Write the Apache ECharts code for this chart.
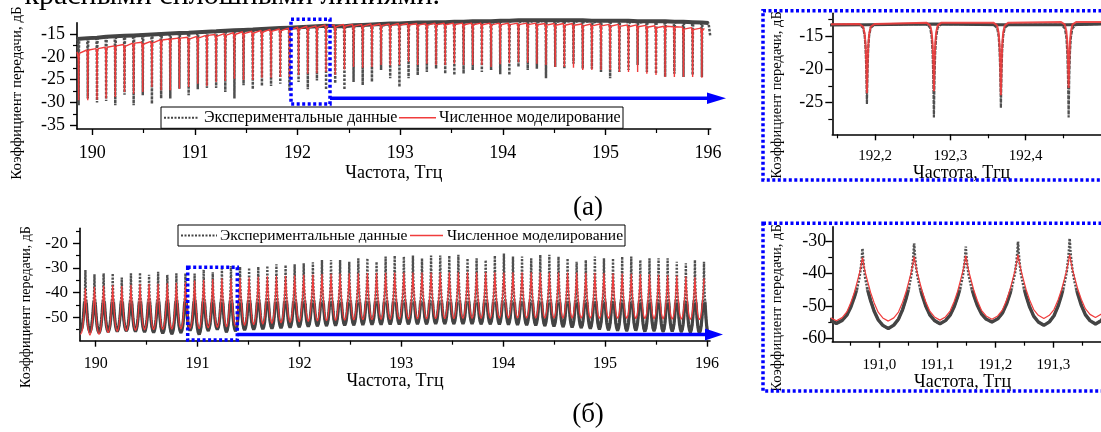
<!DOCTYPE html>
<html><head><meta charset="utf-8">
<script src="https://cdn.jsdelivr.net/npm/echarts@6/dist/echarts.min.js"></script>
<style>html,body{margin:0;padding:0;background:#fff}#c{width:1101px;height:432px}</style>
</head><body><div id="c"></div>
<script>
const EXP = 'Экспериментальные данные';
const SIM = 'Численное моделирование';

// ---------- (а) transmission spectrum: dip positions and levels ----------
const aDipFreq = [189.867,189.956,190.046,190.135,190.224,190.314,190.403,190.492,190.581,190.671,
190.760,190.849,190.939,191.028,191.117,191.207,191.296,191.385,191.474,191.564,
191.653,191.742,191.832,191.921,192.010,192.100,192.189,192.278,192.367,192.457,
192.546,192.635,192.725,192.814,192.903,192.993,193.082,193.171,193.260,193.350,
193.439,193.528,193.618,193.707,193.796,193.886,193.975,194.064,194.153,194.243,
194.332,194.421,194.511,194.600,194.689,194.779,194.868,194.957,195.046,195.136,
195.225,195.314,195.404,195.493,195.582,195.672,195.761,195.850,195.940];
const aExpDip = [-30.6,-29.1,-30.0,-29.7,-30.6,-28.3,-30.6,-28.4,-30.3,-29.1,
-29.1,-27.0,-28.4,-27.1,-26.8,-26.8,-27.7,-29.1,-26.2,-27.1,
-26.4,-26.4,-25.9,-27.5,-25.5,-27.1,-25.2,-27.2,-25.8,-27.2,
-25.5,-26.2,-25.5,-22.9,-24.7,-26.6,-24.7,-24.0,-23.3,-22.6,
-23.7,-24.0,-23.7,-22.9,-23.3,-22.9,-23.8,-24.0,-22.2,-22.9,
-22.6,-24.7,-22.2,-22.6,-21.5,-22.6,-22.6,-23.3,-24.7,-23.3,
-22.9,-21.8,-23.3,-23.7,-24.4,-23.7,-24.4,-24.0,-24.4];
const aSimDip = [-29.5,-29.5,-29.4,-29.1,-28.8,-27.7,-28.1,-27.7,-26.6,-27.3,
-27.3,-27.0,-26.6,-25.9,-26.4,-25.5,-25.3,-24.8,-25.1,-25.1,
-24.6,-24.6,-24.4,-24.4,-24.0,-23.7,-23.6,-23.3,-23.9,-22.8,
-22.2,-22.4,-22.2,-21.8,-21.9,-21.8,-21.1,-21.8,-21.5,-21.8,
-21.8,-21.5,-21.8,-21.8,-21.8,-22.2,-21.6,-21.4,-21.2,-21.3,
-21.5,-21.8,-22.2,-22.2,-22.4,-22.9,-22.9,-22.9,-22.9,-23.3,
-23.3,-23.3,-23.7,-24.0,-24.4,-24.4,-24.4,-24.4,-24.6];
const aExpBase = [-16.0,-15.9,-15.8,-15.6,-15.5,-15.4,-15.3,-15.2,-15.1,-15.0,
-14.9,-14.8,-14.7,-14.6,-14.5,-14.4,-14.3,-14.2,-14.1,-14.0,
-13.9,-13.8,-13.7,-13.6,-13.5,-13.4,-13.3,-13.2,-13.3,-13.3,
-13.1,-13.0,-12.9,-12.8,-12.7,-12.7,-12.6,-12.5,-12.5,-12.4,
-12.4,-12.3,-12.3,-12.2,-12.2,-12.2,-12.1,-12.1,-12.0,-12.0,
-12.0,-12.0,-12.0,-12.0,-12.0,-12.0,-12.1,-12.1,-12.1,-12.1,
-12.1,-12.2,-12.2,-12.2,-12.2,-12.3,-12.3,-12.4,-12.5];
const aSimBase = [-18.8,-18.5,-18.2,-17.9,-17.6,-17.3,-17.0,-16.8,-16.6,-16.3,
-16.1,-15.9,-15.7,-15.5,-15.3,-15.1,-14.9,-14.7,-14.5,-14.4,
-14.2,-14.0,-13.9,-13.7,-13.5,-13.3,-13.2,-13.0,-13.0,-12.9,
-12.9,-12.9,-12.8,-12.8,-12.8,-12.7,-12.7,-12.7,-12.7,-12.6,
-12.6,-12.6,-12.6,-12.6,-12.6,-12.6,-12.6,-12.6,-12.6,-12.6,
-12.6,-12.7,-12.7,-12.7,-12.7,-12.8,-12.8,-12.8,-12.9,-12.9,
-13.0,-13.0,-13.1,-13.2,-13.3,-13.4,-13.5,-13.6,-13.7];
const aExpStart = [[189.851,-16.1]];
const aExpEnd = [[196.005,-12.6],[196.022,-15.5]];
const aSimStart = [[189.851,-18.9]];
const aSimEnd = [[195.965,-13.8]];
// dip line shape: offset (THz) and fraction of dip depth
const aDipShapeOffset = [-0.010,-0.005,-0.003,-0.0018,-0.0009,-0.0003,0,0.0003,0.0009,0.0018,0.003,0.005,0.010];
const aDipShapeDepth  = [0,0.04,0.14,0.30,0.55,0.85,1,0.85,0.55,0.30,0.14,0.04,0];

// ---------- (б) drop-port spectrum: peak positions and levels ----------
const bPeakFreq = [189.899,189.988,190.078,190.167,190.256,190.346,190.435,190.524,190.613,190.703,
190.792,190.881,190.971,191.060,191.149,191.239,191.328,191.417,191.506,191.596,
191.685,191.774,191.864,191.953,192.042,192.132,192.221,192.310,192.399,192.489,
192.578,192.667,192.757,192.846,192.935,193.025,193.114,193.203,193.292,193.382,
193.471,193.560,193.650,193.739,193.828,193.918,194.007,194.096,194.185,194.275,
194.364,194.453,194.543,194.632,194.721,194.811,194.900,194.989,195.078,195.168,
195.257,195.346,195.436,195.525,195.614,195.704,195.793,195.882,195.971];
const bExpPeak = [-30.8,-32.6,-32.2,-32.2,-33.9,-32.2,-31.9,-32.8,-31.5,-32.8,
-32.2,-32.2,-32.3,-30.7,-31.7,-30.2,-29.2,-29.5,-29.9,-29.5,
-29.1,-28.5,-28.8,-28.5,-28.1,-27.7,-26.8,-26.8,-26.8,-27.5,
-26.1,-26.1,-27.5,-25.4,-25.0,-25.4,-25.0,-26.1,-25.0,-25.0,
-25.0,-24.7,-26.1,-26.1,-26.8,-25.0,-24.1,-25.4,-25.4,-26.1,
-24.7,-24.7,-25.4,-26.1,-27.5,-26.8,-25.4,-26.1,-26.1,-25.4,
-25.4,-26.8,-26.1,-26.1,-26.1,-27.5,-28.1,-26.8,-27.5];
const bSimPeak = [-38.2,-37.6,-37.2,-37.0,-37.3,-36.8,-36.5,-36.4,-36.4,-36.2,
-36.0,-35.8,-35.1,-34.8,-34.5,-34.2,-34.2,-34.0,-33.8,-33.6,
-33.4,-33.3,-33.2,-33.0,-32.8,-32.7,-32.5,-32.4,-32.3,-32.2,
-32.2,-32.1,-32.0,-32.0,-31.9,-31.9,-31.9,-31.8,-31.8,-31.8,
-31.7,-31.7,-31.7,-31.7,-31.7,-31.7,-31.8,-31.7,-31.7,-31.7,
-31.8,-31.8,-31.8,-31.9,-31.9,-32.0,-32.0,-32.1,-32.2,-32.3,
-32.4,-32.5,-32.6,-32.8,-33.0,-33.2,-33.5,-33.8,-34.2];
// troughs: [0] before the first peak, [k] after peak k-1
const bExpTrough = [-55.5,-56.0,-56.4,-56.0,-55.8,-55.6,-55.8,-56.0,-56.2,-56.5,
-56.8,-56.3,-55.4,-57.0,-55.5,-55.0,-56.0,-55.6,-55.2,-55.0,
-54.8,-54.6,-54.4,-54.2,-54.0,-53.8,-53.6,-53.5,-53.4,-53.3,
-53.2,-53.1,-53.0,-53.0,-52.9,-52.9,-52.8,-52.8,-52.8,-52.7,
-52.7,-52.7,-52.7,-52.7,-52.8,-52.8,-52.9,-53.0,-53.1,-53.2,
-53.3,-53.5,-53.7,-53.9,-54.1,-54.3,-54.6,-54.9,-55.2,-55.4,
-55.6,-55.4,-55.8,-55.6,-55.9,-55.7,-56.0,-56.2,-56.5,-57.0];
const bSimTrough = [-57.0,-57.3,-57.0,-56.3,-55.8,-55.6,-55.4,-55.2,-55.1,-55.0,
-54.9,-54.8,-54.6,-54.7,-54.4,-54.1,-53.9,-53.6,-53.3,-53.0,
-52.8,-52.5,-52.3,-52.1,-51.9,-51.7,-51.5,-51.4,-51.3,-51.2,
-51.1,-51.0,-51.0,-50.9,-50.9,-50.8,-50.8,-50.7,-50.7,-50.6,
-50.6,-50.6,-50.5,-50.5,-50.5,-50.5,-50.4,-50.4,-50.4,-50.4,
-50.4,-50.4,-50.4,-50.4,-50.4,-50.4,-50.4,-50.5,-50.5,-50.5,
-50.5,-50.6,-50.6,-50.7,-50.7,-50.8,-50.8,-50.9,-51.0,-51.1];
const bStartFreq = 189.85;
const bExpEndFreq = 196.02;
const bSimEndFreq = 195.975;
// peak line shape: offset from peak (THz) and fraction of peak height
const bPeakShapeOffset = [0.035,0.027,0.020,0.014,0.009,0.005,0.0025,0.001,0];
const bSimShape = [0.05,0.14,0.29,0.45,0.62,0.76,0.87,0.95,1];
const bExpShape = [0.04,0.11,0.22,0.35,0.48,0.62,0.76,0.88,1];

// ---------- tick labels ----------
const xTicksMain = [190,191,192,193,194,195,196];
const xMinorMain = [190.5,191.5,192.5,193.5,194.5,195.5];
const yTicksA = [-35,-30,-25,-20,-15];
const yMinorA = [-32.5,-27.5,-22.5,-17.5,-12.5];
const yTicksB = [-50,-40,-30,-20];
const yMinorB = [-55,-45,-35,-25,-15];
const xTicksAi = [192.2,192.3,192.4];
const xMinorAi = [192.15,192.25,192.35,192.45];
const yTicksAi = [-25,-20,-15];
const yMinorAi = [-27.5,-22.5,-17.5,-12.5];
const xTicksBi = [191.0,191.1,191.2,191.3];
const xMinorBi = [190.95,191.05,191.15,191.25,191.35];
const yTicksBi = [-60,-50,-40,-30];
const yMinorBi = [-55,-45,-35];

// ---------- build line data ----------
function buildTop(base, dip, start, end) {
  const d = start.slice();
  for (let i = 0; i < aDipFreq.length; i++) {
    for (let k = 0; k < aDipShapeOffset.length; k++) {
      d.push([aDipFreq[i] + aDipShapeOffset[k], base[i] + aDipShapeDepth[k] * (dip[i] - base[i])]);
    }
  }
  return d.concat(end);
}
function buildBase(base, start, end) {
  return start.concat(aDipFreq.map((f, i) => [f, base[i]]), end.slice(0, 1));
}
function buildBottom(peak, trough, shape, endFreq) {
  const d = [[bStartFreq, trough[0]]];
  const n = bPeakFreq.length, m = bPeakShapeOffset.length;
  for (let i = 0; i < n; i++) {
    const f = bPeakFreq[i];
    for (let k = 0; k < m; k++) d.push([f - bPeakShapeOffset[k], trough[i] + shape[k] * (peak[i] - trough[i])]);
    for (let k = m - 2; k >= 0; k--) {
      const x = f + bPeakShapeOffset[k];
      if (x > endFreq) break;
      d.push([x, trough[i + 1] + shape[k] * (peak[i] - trough[i + 1])]);
    }
    const mid = i < n - 1 ? (f + bPeakFreq[i + 1]) / 2 : f + 0.0446;
    if (mid <= endFreq) d.push([mid, trough[i + 1]]);
  }
  return d;
}
const topExp = buildTop(aExpBase, aExpDip, aExpStart, aExpEnd);
const topExpBand = buildBase(aExpBase, aExpStart, aExpEnd);
const topSim = buildTop(aSimBase, aSimDip, aSimStart, aSimEnd);
const botExp = buildBottom(bExpPeak, bExpTrough, bExpShape, bExpEndFreq);
const botSim = buildBottom(bSimPeak, bSimTrough, bSimShape, bSimEndFreq);

const FONT = '"Liberation Serif","Times New Roman",serif';
const fmtComma = v => v.toFixed(1).replace('.', ',');
const fmtInt = v => String(Math.round(v));

function axisPair(kind, grid, min, max, major, minor, o) {
  const common = {type:'value', gridIndex:grid, min:min, max:max, position: kind === 'x' ? 'bottom' : 'left', offset:0, splitLine:{show:false}};
  const a = Object.assign({}, common, {
    axisLine:{show:true, onZero:false, lineStyle:{color:'#000', width:1.6}},
    axisTick:{show:true, customValues:major, length:o.tick, lineStyle:{color:'#000', width:1.4}},
    axisLabel:{show:true, customValues:major, margin:o.margin, fontSize:o.fs, fontFamily:FONT, color:'#000', formatter:o.fmt},
    name:o.name || '', nameLocation:'middle', nameGap:o.nameGap || 0,
    nameTextStyle:{fontSize:18, fontFamily:FONT, color:'#000', padding:o.namePad || 0}
  });
  const b = Object.assign({}, common, {
    axisLine:{show:false, onZero:false},
    axisTick:{show:true, customValues:minor, length:o.minor, lineStyle:{color:'#000', width:1.2}},
    axisLabel:{show:false}
  });
  return [a, b];
}

const xAxes = [].concat(
  axisPair('x', 0, 189.851, 196.026, xTicksMain, xMinorMain, {tick:6, minor:4, margin:15, fs:18, fmt:fmtInt, name:'Частота, Тгц', nameGap:35}),
  axisPair('x', 1, 192.143, 192.5, xTicksAi, xMinorAi, {tick:6, minor:4, margin:14, fs:15, fmt:fmtComma, name:'Частота, Тгц', nameGap:29, namePad:[0,10,0,0]}),
  axisPair('x', 2, 189.846, 196.03, xTicksMain, xMinorMain, {tick:6, minor:4, margin:15, fs:16, fmt:fmtInt, name:'Частота, Тгц', nameGap:30}),
  axisPair('x', 3, 190.919, 191.382, xTicksBi, xMinorBi, {tick:6, minor:4, margin:16, fs:15, fmt:fmtComma, name:'Частота, Тгц', nameGap:32, namePad:[0,8,0,0]})
);
const yAxes = [].concat(
  axisPair('y', 0, -35.81, -12.52, yTicksA, yMinorA, {tick:7, minor:4, margin:12, fs:18, fmt:fmtInt}),
  axisPair('y', 1, -29.74, -11.6, yTicksAi, yMinorAi, {tick:7, minor:4, margin:9, fs:18, fmt:fmtInt}),
  axisPair('y', 2, -59.49, -13.92, yTicksB, yMinorB, {tick:7, minor:4, margin:12, fs:17, fmt:fmtInt}),
  axisPair('y', 3, -61.05, -25.59, yTicksBi, yMinorBi, {tick:7, minor:4, margin:6, fs:18, fmt:fmtInt})
);

const GRAY = '#444444', RED = '#f03c3c';
function cutGradient(yTop, yOn, yOff) {
  // opaque below yOn (pixels), transparent above yOff
  return new echarts.graphic.LinearGradient(0, yTop, 0, yOn, [
    {offset:0, color:'rgba(68,68,68,0)'},
    {offset:(yOff - yTop) / (yOn - yTop), color:'rgba(68,68,68,0)'},
    {offset:1, color:GRAY}
  ], true);
}
function ser(name, g, data, style, clip, z) {
  return {name:name, type:'line', xAxisIndex:2*g, yAxisIndex:2*g, data:data, symbol:'none', showSymbol:false,
    clip:clip, lineStyle:style, z:z, silent:true, emphasis:{disabled:true}, sampling:null};
}
const series = [
  ser(EXP, 0, topExp, {color:'#505050', width:2.5, type:[2.5,1.5]}, false, 2),
  ser(EXP, 0, topExpBand, {color:GRAY, width:4}, false, 2),
  ser(SIM, 0, topSim, {color:RED, width:1.4}, true, 3),
  ser(EXP, 1, topExp, {color:'#505050', width:2.2, type:[4,1]}, true, 2),
  ser(EXP, 1, topExpBand, {color:GRAY, width:3}, true, 2),
  ser(SIM, 1, topSim, {color:RED, width:2, opacity:0.9}, true, 3),
  ser(EXP, 2, botExp, {color:'#505050', width:2.4, type:[2,1.5]}, true, 2),
  ser(EXP, 2, botExp, {color:cutGradient(228, 304, 299), width:3.2}, true, 2),
  ser(SIM, 2, botSim, {color:RED, width:1.2}, true, 3),
  ser(EXP, 3, botExp, {color:'#505050', width:2.6, type:[2,1.5]}, true, 2),
  ser(EXP, 3, botExp, {color:cutGradient(226, 292, 286), width:3.4}, true, 2),
  ser(SIM, 3, botSim, {color:RED, width:1.2}, true, 3)
];

const BLUE = '#0000ff';
const dotted = {fill:'none', stroke:BLUE, lineWidth:3.5, lineDash:[3,2.5]};
function ylab(x, y, fs) {
  return {type:'text', x:x, y:y, rotation:Math.PI/2, z:50,
    style:{text:'Коэффициент передачи, дБ', fontFamily:FONT, fontSize:fs, fill:'#000', align:'center', verticalAlign:'middle'}};
}
function legendBox(x, y, w, h, s1, t1, s2, t2, fs) {
  const cy = y + h / 2;
  return [
    {type:'rect', z:70, shape:{x:x, y:y, width:w, height:h}, style:{fill:'#fff', stroke:'#000', lineWidth:1}},
    {type:'line', z:71, shape:{x1:s1[0], y1:cy, x2:s1[1], y2:cy}, style:{stroke:GRAY, lineWidth:2, lineDash:[2,1.5]}},
    {type:'text', z:71, x:t1, y:cy, style:{text:EXP, fontFamily:FONT, fontSize:fs, fill:'#000', align:'left', verticalAlign:'middle'}},
    {type:'line', z:71, shape:{x1:s2[0], y1:cy, x2:s2[1], y2:cy}, style:{stroke:RED, lineWidth:1.5}},
    {type:'text', z:71, x:t2, y:cy, style:{text:SIM, fontFamily:FONT, fontSize:fs, fill:'#000', align:'left', verticalAlign:'middle'}}
  ];
}
const graphic = [].concat(
  [{type:'text', x:440, y:11, z:50, style:{text:'красными сплошными линиями.', fontFamily:FONT, fontSize:30, fill:'#000', align:'right', verticalAlign:'bottom'}},
  ylab(17.5, 93, 15),
  ylab(26, 307, 14),
  ylab(777, 95, 14.5),
  ylab(777, 308, 14.5),
  {type:'rect', z:60, shape:{x:291, y:19.3, width:39, height:84.7}, style:dotted},
  {type:'line', z:60, shape:{x1:330, y1:98.3, x2:712, y2:98.3}, style:{stroke:BLUE, lineWidth:3.5}},
  {type:'polygon', z:60, shape:{points:[[707,92.5],[726,98.3],[707,104]]}, style:{fill:BLUE}},
  {type:'rect', z:60, shape:{x:187.7, y:267.3, width:49.6, height:72.7}, style:dotted},
  {type:'line', z:60, shape:{x1:237.3, y1:334.5, x2:710, y2:334.5}, style:{stroke:BLUE, lineWidth:3.5}},
  {type:'polygon', z:60, shape:{points:[[705,328.5],[723,334.5],[705,340.5]]}, style:{fill:BLUE}},
  {type:'rect', z:60, shape:{x:763, y:10.7, width:345, height:169.3}, style:dotted},
  {type:'rect', z:60, shape:{x:763, y:223.3, width:345, height:167.7}, style:dotted},
  {type:'text', x:588, y:208, z:50, style:{text:'(а)', fontFamily:FONT, fontSize:27, fill:'#000', align:'center', verticalAlign:'middle'}},
  {type:'text', x:588, y:415, z:50, style:{text:'(б)', fontFamily:FONT, fontSize:27, fill:'#000', align:'center', verticalAlign:'middle'}}],
  legendBox(161, 107, 462, 21.3, [164, 199], 204, [399, 436], 439, 16),
  legendBox(178, 225, 447, 21, [181, 217], 220, [410, 443], 447, 15.5)
);

const chart = echarts.init(document.getElementById('c'), null, {renderer:'canvas'});
chart.setOption({
  animation:false,
  backgroundColor:'#fff',
  textStyle:{fontFamily:FONT},
  grid:[
    {left:77, top:22.7, width:633.7, height:106.3},
    {left:832.3, top:13.3, width:268.7, height:121},
    {left:80, top:228.3, width:630, height:112.4},
    {left:832.3, top:226.7, width:268.7, height:115}
  ],
  xAxis:xAxes,
  yAxis:yAxes,
  series:series,
  graphic:graphic
});
</script></body></html>
